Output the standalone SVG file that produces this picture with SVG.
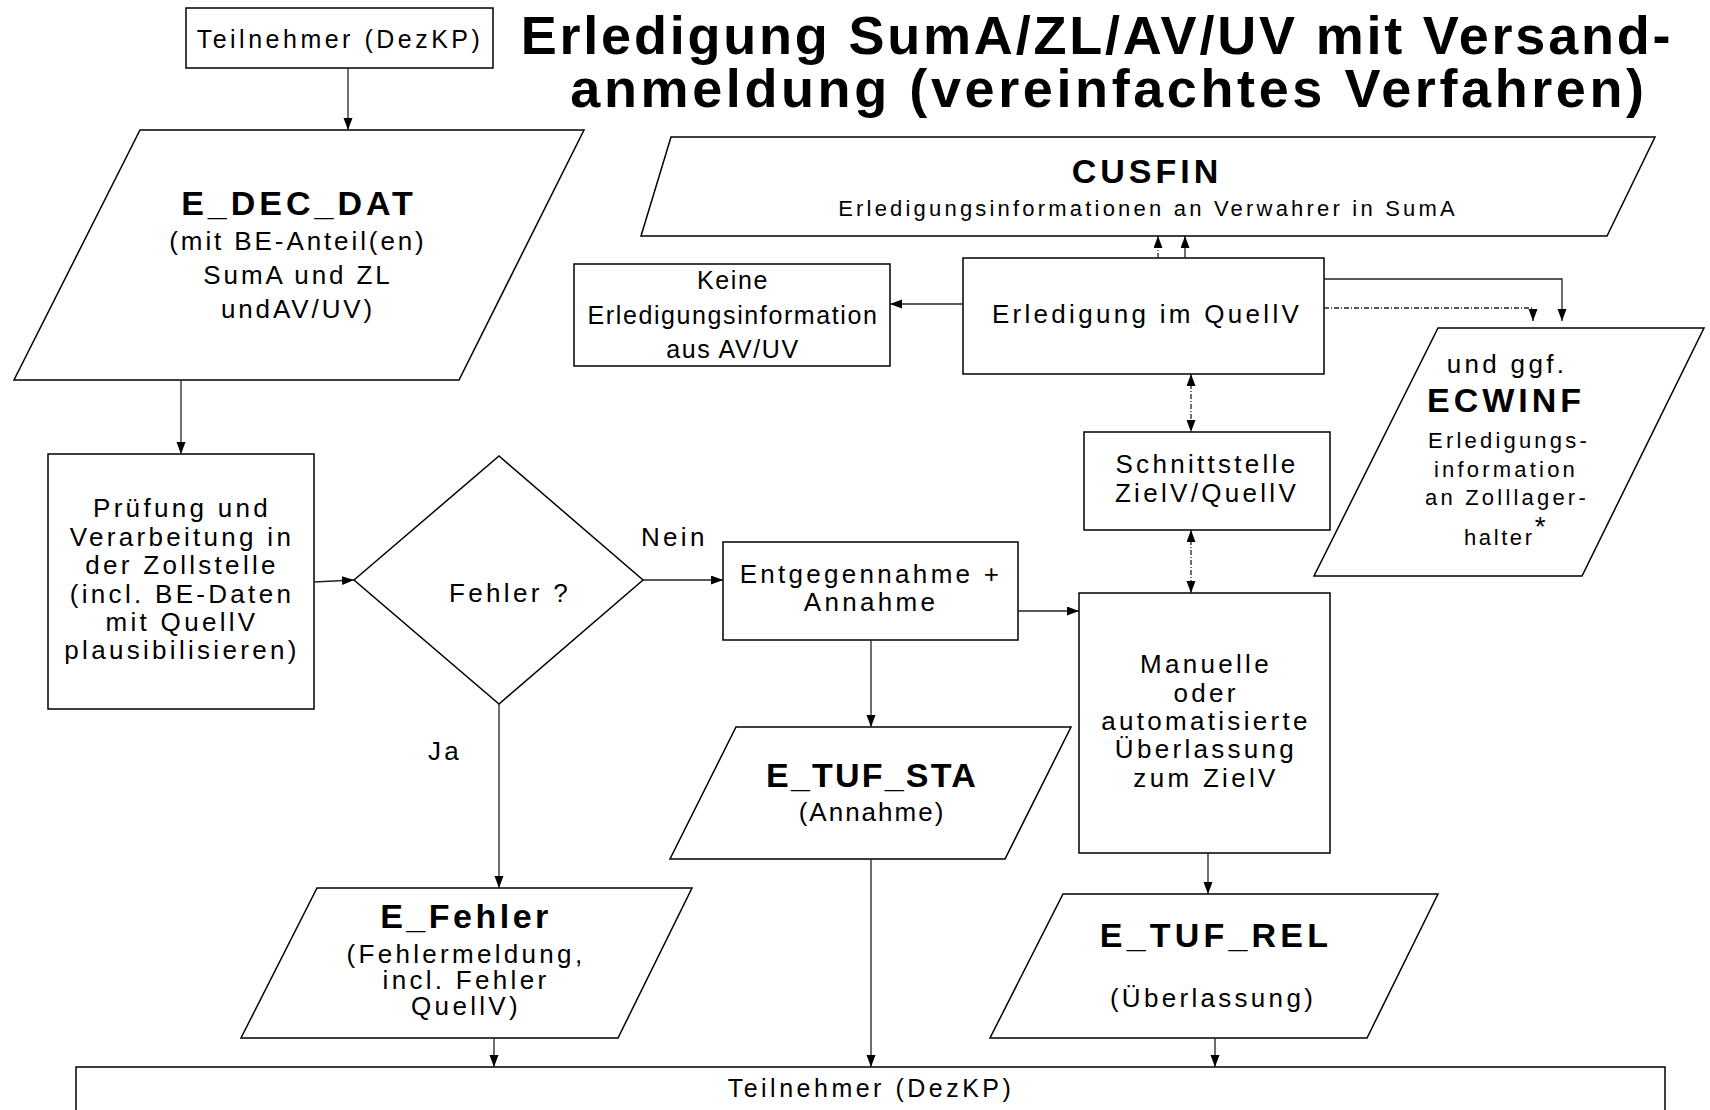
<svg xmlns="http://www.w3.org/2000/svg" width="1710" height="1110" viewBox="0 0 1710 1110">
<style>
text{font-family:"Liberation Sans",Arial,Helvetica,sans-serif;fill:#000;text-anchor:middle}
.n{font-size:26px;letter-spacing:3.3px}
.p{font-size:25px;letter-spacing:3.5px}
.k{font-size:25px;letter-spacing:1.6px}
.s{font-size:22px;letter-spacing:3.2px}
.b{font-size:34px;font-weight:bold;letter-spacing:4px}
.title{font-size:54px;font-weight:bold;letter-spacing:2.8px}
.shape{fill:#fff;stroke:#000;stroke-width:1.5}
.c{fill:none;stroke:#222;stroke-width:1.3}
.d{fill:none;stroke:#222;stroke-width:1.3;stroke-dasharray:5 2 1 2}
</style>
<defs>
<marker id="ah" markerUnits="userSpaceOnUse" markerWidth="12" markerHeight="10" refX="12" refY="4.5" orient="auto-start-reverse">
<path d="M0,0 L12,4.5 L0,9 z" fill="#000"/>
</marker>
</defs>
<rect width="1710" height="1110" fill="#fff"/>

<g id="title">
<text class="title" x="1097" y="54">Erledigung SumA/ZL/AV/UV mit Versand-</text>
<text class="title" x="1109" y="107" style="letter-spacing:3.6px">anmeldung (vereinfachtes Verfahren)</text>
</g>

<g id="teilnehmer-top">
<rect class="shape" x="186" y="8" width="307" height="60"/>
<text class="p" x="340" y="48">Teilnehmer (DezKP)</text>
</g>

<g id="e-dec-dat">
<polygon class="shape" points="140,130 584,130 459,380 14,380"/>
<text class="b" x="299" y="215">E_DEC_DAT</text>
<text class="n" x="298" y="250" style="letter-spacing:2.9px">(mit BE-Anteil(en)</text>
<text class="n" x="298" y="284" style="letter-spacing:2.9px">SumA und ZL</text>
<text class="n" x="298" y="318" style="letter-spacing:2.9px">undAV/UV)</text>
</g>

<g id="pruefung">
<rect class="shape" x="48" y="454" width="266" height="255"/>
<text class="n" x="182" y="517">Prüfung und</text>
<text class="n" x="182" y="546">Verarbeitung in</text>
<text class="n" x="182" y="574">der Zollstelle</text>
<text class="n" x="182" y="603">(incl. BE-Daten</text>
<text class="n" x="182" y="631">mit QuellV</text>
<text class="n" x="182" y="659">plausibilisieren)</text>
</g>

<g id="fehler-decision">
<polygon class="shape" points="354,580 499,456 643,580 499,704"/>
<text class="n" x="510" y="602">Fehler ?</text>
</g>

<g id="entgegennahme">
<rect class="shape" x="723" y="542" width="295" height="98"/>
<text class="n" x="871" y="583">Entgegennahme +</text>
<text class="n" x="871" y="611">Annahme</text>
</g>

<g id="e-fehler">
<polygon class="shape" points="317,888 692,888 618,1038 241,1038"/>
<text class="b" x="466" y="928" style="letter-spacing:3.5px">E_Fehler</text>
<text class="n" x="466" y="963">(Fehlermeldung,</text>
<text class="n" x="466" y="989">incl. Fehler</text>
<text class="n" x="466" y="1015">QuellV)</text>
</g>

<g id="e-tuf-sta">
<polygon class="shape" points="736,727 1071,727 1005,859 670,859"/>
<text class="b" x="872" y="787" style="letter-spacing:2.2px">E_TUF_STA</text>
<text class="n" x="872" y="821" style="letter-spacing:2px">(Annahme)</text>
</g>

<g id="manuelle">
<rect class="shape" x="1079" y="593" width="251" height="260"/>
<text class="n" x="1206" y="673">Manuelle</text>
<text class="n" x="1206" y="702">oder</text>
<text class="n" x="1206" y="730">automatisierte</text>
<text class="n" x="1206" y="758">Überlassung</text>
<text class="n" x="1206" y="787">zum ZielV</text>
</g>

<g id="e-tuf-rel">
<polygon class="shape" points="1063,894 1438,894 1367,1038 990,1038"/>
<text class="b" x="1216" y="947" style="letter-spacing:4.2px">E_TUF_REL</text>
<text class="n" x="1213" y="1007">(Überlassung)</text>
</g>

<g id="schnittstelle">
<rect class="shape" x="1084" y="432" width="246" height="98"/>
<text class="n" x="1207" y="473">Schnittstelle</text>
<text class="n" x="1207" y="502">ZielV/QuellV</text>
</g>

<g id="erledigung-quellv">
<rect class="shape" x="963" y="258" width="361" height="116"/>
<text class="n" x="1147" y="323">Erledigung im QuellV</text>
</g>

<g id="keine">
<rect class="shape" x="574" y="264" width="316" height="102"/>
<text class="k" x="733" y="289">Keine</text>
<text class="k" x="733" y="324">Erledigungsinformation</text>
<text class="k" x="733" y="358">aus AV/UV</text>
</g>

<g id="cusfin">
<polygon class="shape" points="671,137 1655,137 1607,236 641,236"/>
<text class="b" x="1147" y="183">CUSFIN</text>
<text class="s" x="1148" y="216">Erledigungsinformationen an Verwahrer in SumA</text>
</g>

<g id="ecwinf">
<polygon class="shape" points="1438,328 1704,328 1582,576 1314,576"/>
<text class="n" x="1507" y="373">und ggf.</text>
<text class="b" x="1506" y="412">ECWINF</text>
<text class="s" x="1509" y="448">Erledigungs-</text>
<text class="s" x="1506" y="477">information</text>
<text class="s" x="1507" y="505">an Zolllager-</text>
<text class="s" x="1464" y="545" style="text-anchor:start;letter-spacing:2.6px">halter<tspan dy="-9" style="font-size:28px">*</tspan></text>
</g>

<g id="teilnehmer-bottom">
<rect class="shape" x="76" y="1067" width="1589" height="60"/>
<text class="p" x="871" y="1097">Teilnehmer (DezKP)</text>
</g>

<g id="connectors">
<line class="c" x1="348" y1="68" x2="348" y2="130" marker-end="url(#ah)"/>
<line class="c" x1="181" y1="380" x2="181" y2="454" marker-end="url(#ah)"/>
<line class="c" x1="314" y1="582" x2="354" y2="580" marker-end="url(#ah)"/>
<line class="c" x1="643" y1="580" x2="723" y2="580" marker-end="url(#ah)"/>
<line class="c" x1="499" y1="704" x2="499" y2="888" marker-end="url(#ah)"/>
<line class="c" x1="1018" y1="611" x2="1079" y2="611" marker-end="url(#ah)"/>
<line class="c" x1="871" y1="640" x2="871" y2="727" marker-end="url(#ah)"/>
<line class="c" x1="871" y1="859" x2="871" y2="1067" marker-end="url(#ah)"/>
<line class="c" x1="494" y1="1038" x2="494" y2="1067" marker-end="url(#ah)"/>
<line class="c" x1="1208" y1="853" x2="1208" y2="894" marker-end="url(#ah)"/>
<line class="c" x1="1215" y1="1038" x2="1215" y2="1067" marker-end="url(#ah)"/>
<line class="d" x1="1191" y1="374" x2="1191" y2="432" marker-start="url(#ah)" marker-end="url(#ah)"/>
<line class="d" x1="1191" y1="530" x2="1191" y2="593" marker-start="url(#ah)" marker-end="url(#ah)"/>
<line class="c" x1="963" y1="304" x2="890" y2="304" marker-end="url(#ah)"/>
<line class="d" x1="1158" y1="258" x2="1158" y2="236" marker-end="url(#ah)"/>
<line class="c" x1="1185" y1="258" x2="1185" y2="236" marker-end="url(#ah)"/>
<polyline class="c" points="1324,279 1562,279 1562,321" marker-end="url(#ah)"/>
<polyline class="d" points="1324,308 1533,308 1533,321" marker-end="url(#ah)"/>
<text class="n" x="641" y="546" style="text-anchor:start">Nein</text>
<text class="n" x="428" y="760" style="text-anchor:start">Ja</text>
</g>
</svg>
